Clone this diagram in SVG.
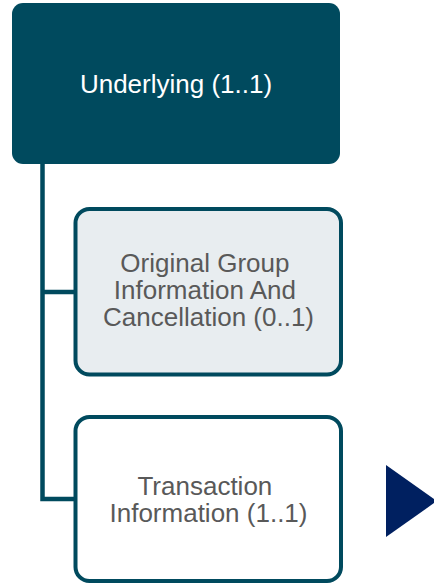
<svg xmlns="http://www.w3.org/2000/svg" width="434" height="584" viewBox="0 0 434 584">
  <style>
    .label { font-family: "Liberation Sans", Arial, sans-serif; font-size: 26px; text-anchor: middle; }
    .child { stroke: #004a5e; stroke-width: 4; }
    .conn { fill: none; stroke: #004a5e; stroke-width: 4.5; stroke-linejoin: miter; }
  </style>
  <rect width="434" height="584" fill="#ffffff"/>

  <g id="connectors">
    <path class="conn" d="M42.5,164 V499 H75"/>
    <path class="conn" d="M42.5,292 H75"/>
  </g>

  <g id="underlying">
    <rect x="12" y="3" width="328" height="161" rx="11" fill="#004a5e"/>
    <text class="label" x="176" y="93" fill="#ffffff">Underlying (1..1)</text>
  </g>

  <g id="original-group">
    <rect class="child" x="75.5" y="209" width="265.5" height="165.5" rx="14" fill="#e8edf0"/>
    <text class="label" fill="#595959">
      <tspan x="208.5" y="272">Original Group</tspan>
      <tspan x="208.5" y="299">Information And</tspan>
      <tspan x="208.5" y="326">Cancellation (0..1)</tspan>
    </text>
  </g>

  <g id="transaction-information">
    <rect class="child" x="75.5" y="417" width="265.5" height="164" rx="14" fill="#ffffff"/>
    <text class="label" fill="#595959">
      <tspan x="208.5" y="495">Transaction</tspan>
      <tspan x="208.5" y="522">Information (1..1)</tspan>
    </text>
  </g>

  <g id="expand-arrow">
    <polygon points="386,465 386,537 437,501" fill="#002060"/>
  </g>
</svg>
